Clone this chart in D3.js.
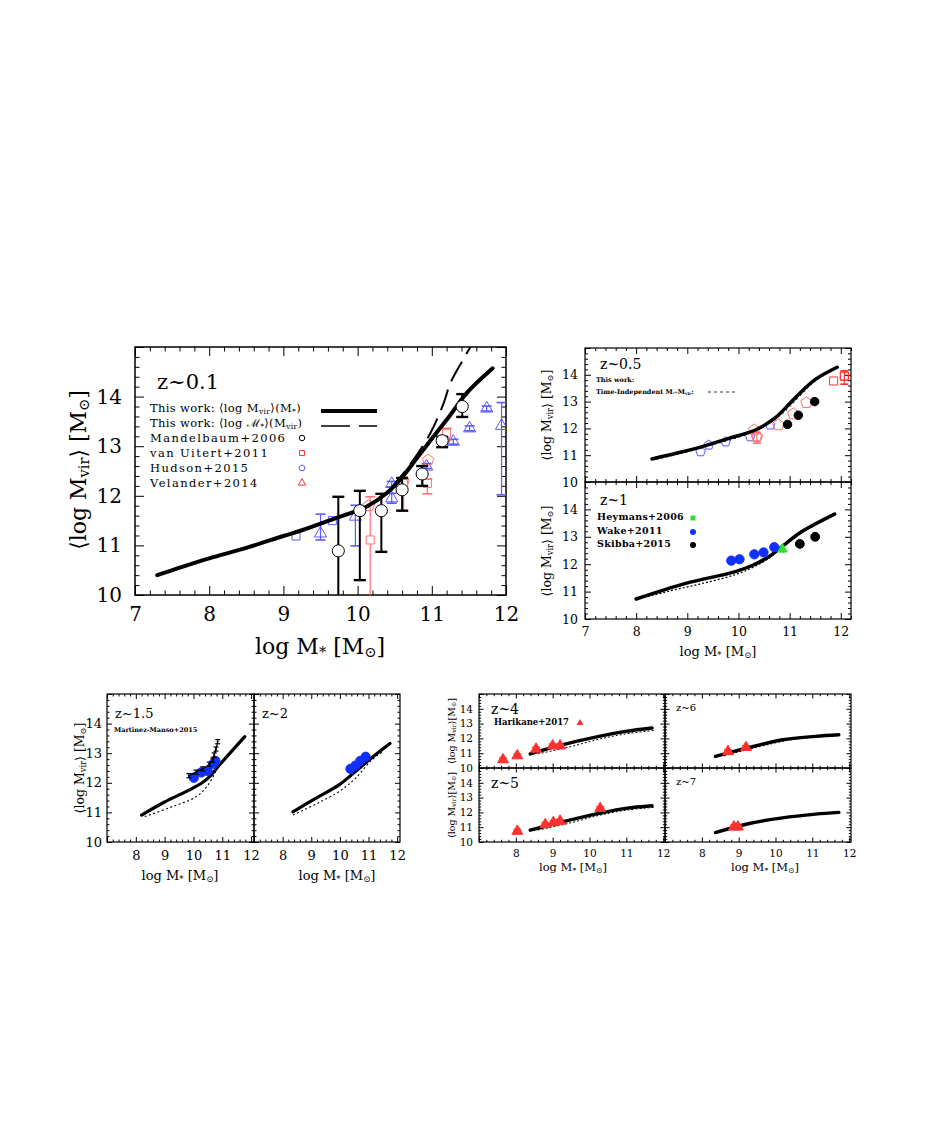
<!DOCTYPE html>
<html>
<head>
<meta charset="utf-8">
<script src="https://cdn.jsdelivr.net/npm/d3@7"></script>
<style>
  body { margin: 0; background: #fff; }
  svg text { font-family: "DejaVu Serif", "Liberation Serif", serif; fill: #000; }
</style>
</head>
<body>
<svg id="chart" width="927" height="1121"></svg>
<script>
// ---- data: z~0.1 ----
const mainSolid = [[7.30,10.40],[7.6,10.55],[8.0,10.74],[8.5,10.95],[9.0,11.19],[9.22,11.29],[9.67,11.53],[10.12,11.78],[10.39,12.05],[10.57,12.32],[10.80,12.76],[11.02,13.19],[11.25,13.63],[11.47,14.07],[11.82,14.57]];
const mainDashed = [[10.45,12.15],[10.6,12.42],[10.75,12.72],[10.98,13.26],[11.16,13.87],[11.25,14.27],[11.42,14.74],[11.52,15.0]];
// [x, y, lo, hi]
const mandelbaum = [[9.74,10.89,9.9,11.98],[10.03,11.70,10.30,12.10],[10.32,11.70,10.87,12.04],[10.60,12.12,11.70,12.36],[10.87,12.44,12.20,12.60],[11.14,13.11,12.98,13.19],[11.41,13.80,13.59,14.05]];
const vanUitert = [[10.17,11.11,9.9,11.98],[10.62,12.25,11.70,12.35],[10.94,12.25,12.04,12.34],[11.20,13.26,13.12,13.36]];
const hudsonRed = [[10.15,11.80],[10.62,12.28],[10.95,12.72]];
const hudsonBlue = [[9.17,11.19],[9.66,11.50]];
const velanderBlue = [[9.50,11.24,11.11,11.63],[9.97,11.58,10.99,11.81],[10.46,12.24,12.18,12.29],[10.46,11.95,11.85,12.05],[10.93,12.59,12.55,12.65],[11.29,13.09,13.04,13.14],[11.51,13.36,13.31,13.41],[11.74,13.76,13.71,13.81],[11.94,13.41,12.02,13.88]];

// ---- z~0.5 ----
const solid05 = [[8.31,10.86],[8.8,11.08],[9.29,11.32],[9.81,11.63],[10.33,11.94],[10.71,12.38],[11.10,13.12],[11.49,13.81],[11.93,14.28]];
const dotted05 = [[8.4,10.84],[9.3,11.28],[10.3,11.88],[10.8,12.45],[11.5,13.76],[11.9,14.22]];
const blue05 = [[9.26,11.13],[9.42,11.38],[9.75,11.50],[10.23,11.69],[10.62,12.13]];
const red05 = [[10.31,11.94],[10.36,11.69],[10.78,12.13],[11.07,12.54],[11.33,12.96]];
const redSq05 = [[11.86,13.77],[12.07,13.95]];
const black05 = [[10.96,12.15],[11.17,12.49],[11.49,13.00]];

// ---- z~1 ----
const solid1 = [[8.0,10.73],[8.97,11.30],[9.94,11.73],[10.3,11.98],[10.6,12.28],[10.85,12.64],[11.24,13.19],[11.88,13.83]];
const dotted1 = [[8.0,10.70],[8.65,11.02],[9.3,11.30],[9.94,11.62],[10.3,11.90],[10.6,12.22],[10.85,12.60],[11.24,13.17],[11.9,13.85]];
const wake1 = [[9.86,12.13],[10.02,12.18],[10.31,12.36],[10.49,12.43],[10.70,12.62]];
const heymans1 = [[10.86,12.55,12.45,12.65]];
const skibba1 = [[11.20,12.74],[11.50,13.00]];

// ---- z~1.5, z~2 ----
const solid15 = [[8.20,10.91],[9.0,11.35],[9.86,11.76],[10.3,12.0],[10.55,12.2],[10.90,12.60],[11.78,13.56]];
const dotted15 = [[8.31,10.86],[9.2,11.17],[10.09,11.53],[10.5,11.92],[10.78,12.40]];
const wake15 = [[10.01,12.17],[10.27,12.35],[10.49,12.40],[10.69,12.64],[10.76,12.74]];
const martinez15 = [[9.84,12.24],[10.09,12.36],[10.32,12.47],[10.55,12.63],[10.67,12.77],[10.72,12.94],[10.78,13.14],[10.84,13.39]];
const solid2 = [[8.36,11.02],[9.2,11.50],[9.97,11.93],[10.54,12.38],[11.23,12.94],[11.75,13.33]];
const dotted2 = [[8.36,10.91],[9.2,11.30],[9.97,11.70],[10.54,12.15],[11.11,12.77],[11.5,13.05]];
const wake2 = [[10.37,12.47],[10.54,12.58],[10.71,12.74],[10.90,12.88]];

// ---- z~4..7 ----
const solid4 = [[8.39,10.95],[9.09,11.46],[10.26,12.14],[10.98,12.47],[11.70,12.70]];
const dashed4 = [[8.6,10.95],[9.5,11.45],[10.26,11.95],[10.98,12.30],[11.8,12.55]];
const harikane4 = [[7.65,10.56],[8.04,10.83],[8.55,11.28],[9.0,11.50],[9.2,11.50]];
const solid5 = [[8.39,10.80],[9.09,11.25],[10.26,11.93],[10.98,12.27],[11.70,12.45]];
const dashed5 = [[8.6,10.80],[9.5,11.30],[10.26,11.80],[11.0,12.15],[11.8,12.35]];
const harikane5 = [[8.04,10.73],[8.80,11.18],[9.02,11.32],[9.20,11.41],[10.29,12.27]];
const solid6 = [[8.37,10.78],[9.29,11.39],[10.19,11.91],[11.09,12.14],[11.72,12.25]];
const dashed6 = [[8.6,10.82],[9.5,11.40],[10.4,11.90],[11.2,12.12],[11.8,12.22]];
const harikane6 = [[8.71,11.12],[9.2,11.39]];
const solid7 = [[8.37,10.64],[9.29,11.25],[10.19,11.63],[11.09,11.88],[11.72,12.00]];
const harikane7 = [[8.87,11.02],[8.98,11.02]];

const svg = d3.select('#chart');
const BLUE = '#5a5aff', RED = '#ff3030', LRED = '#ff7070';

// Panel with inward ticks on all sides
function panel(o) {
    const x = d3.scaleLinear().domain(o.xd).range([o.x0, o.x1]);
    const y = d3.scaleLinear().domain([10, 15]).range([o.y1, o.y0]);
    const g = svg.append('g');
    const id = 'clip' + Math.round(o.x0) + '_' + Math.round(o.y0);
    svg.append('clipPath').attr('id', id).append('rect')
        .attr('x', o.x0).attr('y', o.y0).attr('width', o.x1 - o.x0).attr('height', o.y1 - o.y0);

    const xMaj = d3.range(7, o.xd[1] + 1e-6, 1);
    const xMin = d3.range(7, o.xd[1] + 1e-6, 0.2).filter(v => Math.abs(v - Math.round(v)) > 1e-6);
    const yMaj = d3.range(10, 15.001, 1);
    const yMin = d3.range(10, 15.001, 0.2).filter(v => Math.abs(v - Math.round(v)) > 1e-6);
    const fx = d => (o.xLabels || []).includes(d) ? d : '';
    const fy = d => (o.yLabels || []).includes(d) ? d : '';
    const ff = o.ff || '"DejaVu Serif", serif';

    const add = (axis, tr) => g.append('g').attr('transform', tr).call(axis)
        .call(s => s.select('.domain').remove())
        .call(s => s.selectAll('line').attr('stroke', '#000').attr('stroke-width', o.tw || 1));

    add(d3.axisBottom(x).tickValues(xMin).tickSize(-o.minor).tickFormat(''), `translate(0,${o.y1})`);
    add(d3.axisTop(x).tickValues(xMin).tickSize(-o.minor).tickFormat(''), `translate(0,${o.y0})`);
    add(d3.axisLeft(y).tickValues(yMin).tickSize(-o.minor).tickFormat(''), `translate(${o.x0},0)`);
    add(d3.axisRight(y).tickValues(yMin).tickSize(-o.minor).tickFormat(''), `translate(${o.x1},0)`);
    add(d3.axisTop(x).tickValues(xMaj).tickSize(-o.major).tickFormat(''), `translate(0,${o.y0})`);
    add(d3.axisRight(y).tickValues(yMaj).tickSize(-o.major).tickFormat(''), `translate(${o.x1},0)`);
    add(d3.axisBottom(x).tickValues(xMaj).tickSize(-o.major).tickPadding(o.xpad).tickFormat(fx), `translate(0,${o.y1})`)
        .selectAll('text').attr('font-size', o.fs).attr('font-family', ff);
    add(d3.axisLeft(y).tickValues(yMaj).tickSize(-o.major).tickPadding(o.ypad).tickFormat(fy), `translate(${o.x0},0)`)
        .selectAll('text').attr('font-size', o.fs).attr('font-family', ff);

    g.append('rect').attr('x', o.x0).attr('y', o.y0).attr('width', o.x1 - o.x0).attr('height', o.y1 - o.y0)
        .attr('fill', 'none').attr('stroke', '#000').attr('stroke-width', o.fw || 1.2);

    const data = svg.append('g').attr('clip-path', `url(#${id})`);
    return { x, y, g, data };
}

function curve(p, pts, width, dash) {
    const line = d3.line().x(d => p.x(d[0])).y(d => p.y(d[1])).curve(d3.curveCatmullRom.alpha(0.5));
    p.data.append('path').datum(pts).attr('d', line).attr('fill', 'none')
        .attr('stroke', '#000').attr('stroke-width', width)
        .attr('stroke-dasharray', dash || null).attr('stroke-linecap', dash ? 'butt' : 'round');
}

function pentagon(r) {
    const pts = d3.range(5).map(i => {
        const a = -Math.PI / 2 + i * 2 * Math.PI / 5;
        return [r * Math.cos(a), r * Math.sin(a)];
    });
    return 'M' + pts.join('L') + 'Z';
}

function markers(p, pts, o) {
    const path = o.shape === 'pentagon' ? pentagon(o.size)
        : d3.symbol().type(o.shape).size(o.size * o.size * 3.2)();
    pts.forEach(d => {
        if (d.length > 2) {
            const cx = p.x(d[0]);
            p.data.append('line').attr('x1', cx).attr('x2', cx)
                .attr('y1', p.y(d[2])).attr('y2', p.y(d[3]))
                .attr('stroke', o.color).attr('stroke-width', o.ew || 1.2);
            [d[2], d[3]].forEach(v => p.data.append('line')
                .attr('x1', cx - o.cap).attr('x2', cx + o.cap)
                .attr('y1', p.y(v)).attr('y2', p.y(v))
                .attr('stroke', o.color).attr('stroke-width', o.cw || 1.6));
        }
        p.data.append('path').attr('d', path)
            .attr('transform', `translate(${p.x(d[0])},${p.y(d[1])})`)
            .attr('fill', o.fill).attr('stroke', o.color).attr('stroke-width', o.sw || 1);
    });
}

// rich text: parts = [text, sub?]
function rich(x, y, parts, fs, opts = {}) {
    const t = svg.append('text').attr('x', x).attr('y', y).attr('font-size', fs)
        .attr('text-anchor', opts.anchor || 'start')
        .attr('letter-spacing', opts.ls || null)
        .attr('font-weight', opts.bold ? 'bold' : null);
    if (opts.rotate) t.attr('transform', `rotate(-90,${x},${y})`);
    parts.forEach(p => {
        const s = t.append('tspan').text(typeof p === 'string' ? p : p[0]);
        if (Array.isArray(p)) s.attr('baseline-shift', '-22%').attr('font-size', fs * 0.66);
    });
    return t;
}
const yLab = ['\u27E8log M', ['vir'], '\u27E9 [M', ['\u2299'], ']'];
const xLab = ['log M', ['*'], ' [M', ['\u2299'], ']'];

// ===== main panel z~0.1 =====
const pm = panel({ x0: 135, x1: 506, y0: 347, y1: 595, xd: [7, 12], major: 9, minor: 4.5,
    xLabels: [7, 8, 9, 10, 11, 12], yLabels: [10, 11, 12, 13, 14], fs: 20, xpad: 12, ypad: 13, fw: 1.5 });
markers(pm, velanderBlue, { shape: d3.symbolTriangle, size: 4.5, color: BLUE, fill: 'none', cap: 5 });
markers(pm, hudsonBlue, { shape: d3.symbolSquare, size: 4.5, color: BLUE, fill: 'none', cap: 5 });
markers(pm, vanUitert, { shape: d3.symbolSquare, size: 4.5, color: LRED, fill: 'white', cap: 5 });
markers(pm, hudsonRed, { shape: 'pentagon', size: 6, color: LRED, fill: 'none', cap: 5 });
curve(pm, mainDashed, 2, '22,9');
curve(pm, mainSolid, 4);
markers(pm, mandelbaum, { shape: d3.symbolCircle, size: 6, color: '#000', fill: 'white', cap: 6, ew: 2, cw: 2.4 });
svg.append('text').attr('x', 157).attr('y', 389).attr('font-size', 21).text('z~0.1');
const legMain = [
    ['This work: \u27E8log M', ['vir'], '\u27E9(M', ['*'], ')'],
    ['This work: \u27E8log \u2133', ['*'], '\u27E9(M', ['vir'], ')'],
    ['Mandelbaum+2006'], ['van Uitert+2011'], ['Hudson+2015'], ['Velander+2014']
];
legMain.forEach((parts, i) => rich(150, 412 + i * 15, parts, 11.5, { ls: i < 2 ? 0.35 : 1.4 }));
svg.append('line').attr('x1', 321).attr('x2', 377).attr('y1', 411).attr('y2', 411).attr('stroke', '#000').attr('stroke-width', 4);
svg.append('line').attr('x1', 321).attr('x2', 377).attr('y1', 426).attr('y2', 426).attr('stroke', '#000').attr('stroke-width', 1.6).attr('stroke-dasharray', '29,9');
const legSyms = [[d3.symbolCircle, '#000'], [d3.symbolSquare, RED], ['pentagon', BLUE], [d3.symbolTriangle, RED]];
legSyms.forEach(([s, c], i) => {
    const d = s === 'pentagon' ? pentagon(3.2) : d3.symbol().type(s).size(24)();
    svg.append('path').attr('d', d).attr('transform', `translate(302,${438 + i * 15})`)
        .attr('fill', 'none').attr('stroke', c).attr('stroke-width', 1);
});
rich(86, 470, yLab, 22, { anchor: 'middle', rotate: true });
rich(320, 654, xLab, 22, { anchor: 'middle' });

// ===== right panels z~0.5 / z~1 =====
const rOpt = { x0: 585, x1: 851, xd: [7, 12.2], major: 6, minor: 3, fs: 12.5, xpad: 8, ypad: 7 };
const p05 = panel(Object.assign({}, rOpt, { y0: 348, y1: 482, yLabels: [10, 11, 12, 13, 14] }));
curve(p05, dotted05, 1, '2,3');
markers(p05, blue05, { shape: 'pentagon', size: 5, color: BLUE, fill: 'none', cap: 3 });
markers(p05, red05, { shape: 'pentagon', size: 6, color: LRED, fill: 'none', cap: 3 });
markers(p05, [[10.36,11.69,11.45,11.85]], { shape: 'pentagon', size: 5, color: LRED, fill: 'none', cap: 4 });
markers(p05, redSq05, { shape: d3.symbolSquare, size: 4.5, color: RED, fill: 'none', cap: 4 });
markers(p05, [[12.07,13.95,13.65,14.15]], { shape: d3.symbolSquare, size: 4.5, color: RED, fill: 'none', cap: 4 });
curve(p05, solid05, 3.5);
markers(p05, black05, { shape: d3.symbolCircle, size: 4.2, color: '#000', fill: '#000' });
svg.append('text').attr('x', 600).attr('y', 369).attr('font-size', 14).text('z~0.5');
rich(596, 382, ['This work:'], 6.5, { bold: true });
rich(596, 394, ['Time-Independent M', ['*'], '-M', ['vir'], ':'], 6.5, { bold: true });
svg.append('line').attr('x1', 708).attr('x2', 737).attr('y1', 392).attr('y2', 392)
    .attr('stroke', '#000').attr('stroke-width', 0.8).attr('stroke-dasharray', '3,3');

const p1 = panel(Object.assign({}, rOpt, { y0: 482, y1: 619, xLabels: [7, 8, 9, 10, 11, 12], yLabels: [10, 11, 12, 13, 14] }));
curve(p1, dotted1, 1.2, '2,2');
curve(p1, solid1, 3.5);
markers(p1, wake1, { shape: d3.symbolCircle, size: 4.6, color: '#1030ff', fill: '#1030ff' });
markers(p1, heymans1, { shape: d3.symbolTriangle, size: 3.5, color: '#33dd33', fill: '#33dd33', cap: 3 });
markers(p1, skibba1, { shape: d3.symbolCircle, size: 4.4, color: '#000', fill: '#000' });
svg.append('text').attr('x', 600).attr('y', 505).attr('font-size', 14).text('z~1');
['Heymans+2006', 'Wake+2011', 'Skibba+2015'].forEach((t, i) =>
    rich(597, 520 + i * 13.5, [t], 9.5, { bold: true, ls: 0.3 }));
svg.append('rect').attr('x', 690.5).attr('y', 515.5).attr('width', 5).attr('height', 5).attr('fill', '#33dd33');
svg.append('circle').attr('cx', 693).attr('cy', 532).attr('r', 3).attr('fill', '#1030ff');
svg.append('circle').attr('cx', 693).attr('cy', 545).attr('r', 3).attr('fill', '#000');
rich(551, 415, yLab, 12.5, { anchor: 'middle', rotate: true });
rich(551, 551, yLab, 12.5, { anchor: 'middle', rotate: true });
rich(718, 656, xLab, 13, { anchor: 'middle' });

// ===== bottom-left z~1.5 / z~2 =====
const bOpt = { y0: 694, y1: 842, xd: [7, 12.1], major: 5, minor: 2.5, fs: 13, xpad: 9, ypad: 5,
    xLabels: [8, 9, 10, 11, 12], ff: '"Liberation Serif", serif' };
const p15 = panel(Object.assign({}, bOpt, { x0: 107, x1: 254, yLabels: [10, 11, 12, 13, 14] }));
curve(p15, dotted15, 1.1, '2,2.5');
curve(p15, solid15, 3.2);
markers(p15, wake15, { shape: d3.symbolCircle, size: 4.6, color: '#1030ff', fill: '#1030ff' });
curve(p15, martinez15, 1.2);
markers(p15, martinez15.map(d => [d[0], d[1], d[1] - 0.07, d[1] + 0.07]),
    { shape: d3.symbolCircle, size: 0.5, color: '#000', fill: '#000', cap: 2.5, ew: 1, cw: 1.2 });
svg.append('text').attr('x', 115).attr('y', 718).attr('font-size', 13).text('z~1.5');
rich(114, 732, ['Martinez-Manso+2015'], 6.5, { bold: true });
rich(84, 768, yLab, 12.5, { anchor: 'middle', rotate: true });
rich(180, 880, xLab, 13, { anchor: 'middle' });

const p2 = panel(Object.assign({}, bOpt, { x0: 254, x1: 400 }));
curve(p2, dotted2, 1.1, '2,2.5');
curve(p2, solid2, 3.2);
markers(p2, wake2, { shape: d3.symbolCircle, size: 4.6, color: '#1030ff', fill: '#1030ff' });
svg.append('text').attr('x', 262).attr('y', 718).attr('font-size', 13).text('z~2');
rich(337, 880, xLab, 13, { anchor: 'middle' });

// ===== bottom-right z~4..7 =====
const hOpt = { xd: [7, 12.05], major: 4.5, minor: 2.2, fs: 10.5, xpad: 8, ypad: 6 };
const hi = [
    { x0: 479, x1: 665, y0: 694, y1: 768, yLabels: [10, 11, 12, 13, 14], solid: solid4, dash: dashed4, pts: harikane4, z: 'z~4', fz: 14 },
    { x0: 665, x1: 851, y0: 694, y1: 768, solid: solid6, dash: dashed6, pts: harikane6, z: 'z~6', fz: 10 },
    { x0: 479, x1: 665, y0: 768, y1: 842, yLabels: [10, 11, 12, 13, 14], xLabels: [8, 9, 10, 11, 12], solid: solid5, dash: dashed5, pts: harikane5, z: 'z~5', fz: 14 },
    { x0: 665, x1: 851, y0: 768, y1: 842, xLabels: [8, 9, 10, 11, 12], solid: solid7, dash: null, pts: harikane7, z: 'z~7', fz: 10 }
];
hi.forEach(h => {
    const p = panel(Object.assign({}, hOpt, h));
    if (h.dash) curve(p, h.dash, 1, '2,2');
    curve(p, h.solid, 3.4);
    markers(p, h.pts.map(d => [d[0], d[1], d[1] - 0.12, d[1] + 0.12]),
        { shape: d3.symbolTriangle, size: 4, color: RED, fill: RED, cap: 4, ew: 1, cw: 1.2 });
    svg.append('text').attr('x', h.x0 + (h.fz > 12 ? 12 : 11)).attr('y', h.y0 + (h.fz > 12 ? 20 : 17))
        .attr('font-size', h.fz).text(h.z);
});
rich(494, 725, ['Harikane+2017'], 8.5, { bold: true });
svg.append('path').attr('d', d3.symbol().type(d3.symbolTriangle).size(22)()).attr('transform', 'translate(580,723)').attr('fill', RED);
rich(455, 731, ['\u27E8log M', ['vir'], '\u27E9[M', ['\u2299'], ']'], 9.5, { anchor: 'middle', rotate: true });
rich(455, 805, ['\u27E8log M', ['vir'], '\u27E9[M', ['\u2299'], ']'], 9.5, { anchor: 'middle', rotate: true });
rich(573, 871, xLab, 11.5, { anchor: 'middle' });
rich(765, 871, xLab, 11.5, { anchor: 'middle' });
</script>
</body>
</html>
